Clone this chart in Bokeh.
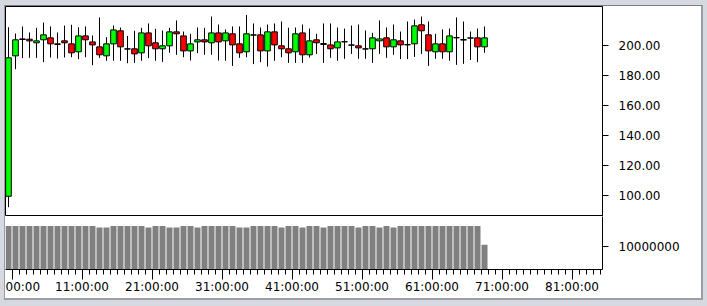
from bokeh.plotting import figure
from bokeh.layouts import column
from bokeh.models import Range1d, FixedTicker, NumeralTickFormatter, ColumnDataSource
from bokeh.embed import file_html
from bokeh.resources import INLINE

# ---- data ----
opens = [99.5, 193.1, 204.4, 204.2, 201.8, 203.8, 205.1, 201.1, 203.1, 201.1,
         195.8, 206.4, 202.4, 199.1, 193.1, 201.1, 209.8, 197.8, 197.8, 195.1,
         208.4, 201.8, 197.8, 199.8, 209.1, 206.4, 196.4, 202.4, 203.8, 201.8,
         208.4, 203.1, 207.8, 201.1, 195.8, 206.9, 207.1, 196.4, 209.1, 199.8,
         197.8, 195.8, 208.4, 193.8, 203.8, 201.3, 200.4, 198.4, 202.4, 200.4,
         199.8, 197.8, 197.8, 203.1, 205.1, 199.1, 203.1, 200.6, 201.1, 213.8,
         207.1, 195.8, 201.1, 195.8, 205.3, 204.0, 204.9, 205.1, 199.1]
highs = [212.2, 208.0, 212.7, 208.7, 211.8, 215.3, 212.7, 208.7, 213.3, 213.8,
         212.2, 212.7, 206.7, 218.7, 205.6, 213.3, 212.0, 206.4, 209.8, 211.8,
         214.7, 211.1, 210.0, 211.8, 216.7, 209.3, 207.8, 212.0, 211.8, 219.3,
         214.0, 210.7, 212.7, 212.7, 220.4, 214.7, 212.0, 214.0, 214.7, 216.0,
         211.8, 212.0, 214.0, 211.3, 207.8, 214.7, 214.7, 212.0, 211.3, 213.3,
         214.0, 210.0, 208.4, 216.7, 212.0, 214.0, 209.3, 216.0, 217.3, 219.3,
         216.0, 207.8, 210.7, 211.3, 218.7, 216.0, 209.3, 211.3, 212.7]
lows = [92.2, 184.2, 191.6, 191.8, 191.8, 188.9, 192.0, 191.3, 192.0, 192.2,
        190.9, 192.2, 186.9, 191.8, 189.8, 189.8, 189.8, 188.2, 188.4, 189.8,
        191.6, 189.8, 189.1, 195.1, 193.8, 192.2, 190.0, 194.9, 193.8, 193.8,
        190.0, 189.8, 186.4, 191.8, 192.2, 187.6, 188.9, 186.0, 189.8, 192.2,
        188.4, 188.4, 188.4, 192.0, 194.4, 188.4, 191.8, 189.8, 191.1, 194.4,
        191.1, 191.1, 188.4, 194.4, 191.8, 193.8, 190.9, 190.9, 192.4, 194.4,
        186.4, 191.1, 191.1, 189.8, 187.1, 187.8, 190.4, 188.9, 195.1]
closes = [191.8, 203.8, 204.0, 203.1, 203.1, 207.1, 201.1, 200.7, 201.8, 195.1,
          206.4, 203.8, 200.4, 193.8, 201.1, 210.4, 199.1, 197.6, 194.4, 208.4,
          199.8, 197.8, 199.8, 209.1, 207.8, 196.4, 201.1, 203.8, 202.4, 208.4,
          202.4, 208.4, 200.4, 195.1, 207.8, 207.1, 196.4, 209.1, 200.4, 197.8,
          195.1, 207.8, 193.8, 203.1, 201.8, 200.7, 197.8, 202.4, 202.6, 200.2,
          198.4, 197.6, 205.1, 204.4, 199.1, 203.8, 200.4, 200.4, 213.1, 209.8,
          196.4, 201.1, 195.8, 206.4, 205.1, 203.6, 205.1, 199.1, 205.1]
volumes = [16.8e6] * 69
for k in [13, 14, 20, 23, 24, 27, 33, 34, 39, 42, 45, 50, 53, 55]:
    volumes[k] = 16.3e6
volumes[68] = 10.6e6

hours = [i + 0.5 for i in range(len(opens))]          # period centres
price_ticks = [100, 120, 140, 160, 180, 200]
volume_ticks = [10000000]
time_ticks = [1, 11, 21, 31, 41, 51, 61, 71, 81]
time_labels = {t: f"{t:02d}:00:00" for t in time_ticks}
time_labels[1] = "00:00"   # first label is clipped by the panel edge in the reference

UP = "#00ff00"
DOWN = "#ff0000"
FONT = "DejaVu Sans"

src = ColumnDataSource(dict(
    x=hours, o=opens, h=highs, l=lows, c=closes,
    top=[max(a, b) for a, b in zip(opens, closes)],
    bot=[min(a, b) for a, b in zip(opens, closes)],
    col=[UP if c >= o else DOWN for o, c in zip(opens, closes)],
    v=volumes, zero=[0] * len(opens),
))

x_range = Range1d(0.5 / 7, 597.5 / 7)


def style_axis(ax):
    ax.axis_line_color = "black"
    ax.major_tick_line_color = "black"
    ax.minor_tick_line_color = "black"
    ax.major_label_text_font = FONT
    ax.major_label_text_font_size = "12px"
    ax.major_label_text_color = "black"
    ax.major_tick_in = 0
    ax.minor_tick_in = 0


top = figure(width=696, height=210, x_range=x_range, y_range=Range1d(86, 226),
             output_backend="svg", toolbar_location=None, x_axis_location=None,
             y_axis_location="right", min_border_left=0, min_border_right=99,
             min_border_top=0, min_border_bottom=0,
             background_fill_color="white", border_fill_color="white",
             outline_line_color="black")
top.xgrid.visible = False
top.ygrid.visible = False
top.segment(x0="x", y0="l", x1="x", y1="h", source=src, line_color="black", line_width=1)
top.vbar(x="x", top="top", bottom="bot", width=0.8, source=src,
         fill_color="col", line_color="black", line_width=1)
ya = top.yaxis[0]
style_axis(ya)
ya.ticker = FixedTicker(ticks=price_ticks)
ya.formatter = NumeralTickFormatter(format="0.00")
ya.major_tick_out = 6
ya.minor_tick_out = 0
ya.major_label_standoff = 10

bottom = figure(width=696, height=82, x_range=x_range, y_range=Range1d(2.3e6, 20e6),
                output_backend="svg", toolbar_location=None,
                y_axis_location="right", min_border_left=0, min_border_right=99,
                min_border_top=0, min_border_bottom=29,
                background_fill_color="white", border_fill_color="white",
                outline_line_color=None)
bottom.xgrid.visible = False
bottom.ygrid.visible = False
bottom.vbar(x="x", top="v", bottom="zero", width=0.86, source=src,
            fill_color="#808080", line_color=None)
vy = bottom.yaxis[0]
style_axis(vy)
vy.ticker = FixedTicker(ticks=volume_ticks)
vy.formatter = NumeralTickFormatter(format="0")
vy.major_tick_out = 6
vy.minor_tick_out = 0
vy.major_label_standoff = 10

xa = bottom.xaxis[0]
style_axis(xa)
xa.ticker = FixedTicker(ticks=time_ticks, minor_ticks=list(range(0, 86)))
xa.major_label_overrides = time_labels
xa.major_tick_out = 10
xa.minor_tick_out = 5
xa.major_label_standoff = 0

inner = column(top, bottom, styles={
    "background-color": "white",
    "border-top": "1px solid #7c7d84",
    "border-left": "1px solid #9a9ba3",
    "border-right": "2px solid #9c9da5",
    "border-bottom": "2px solid #9c9da5",
})
outer = column(inner, styles={
    "background-color": "#d6d9e0",
    "padding": "5px 4px 6px 4px",
    "width": "707px",
    "height": "306px",
    "box-sizing": "border-box",
})

open("out.html", "w").write(file_html(outer, INLINE))
